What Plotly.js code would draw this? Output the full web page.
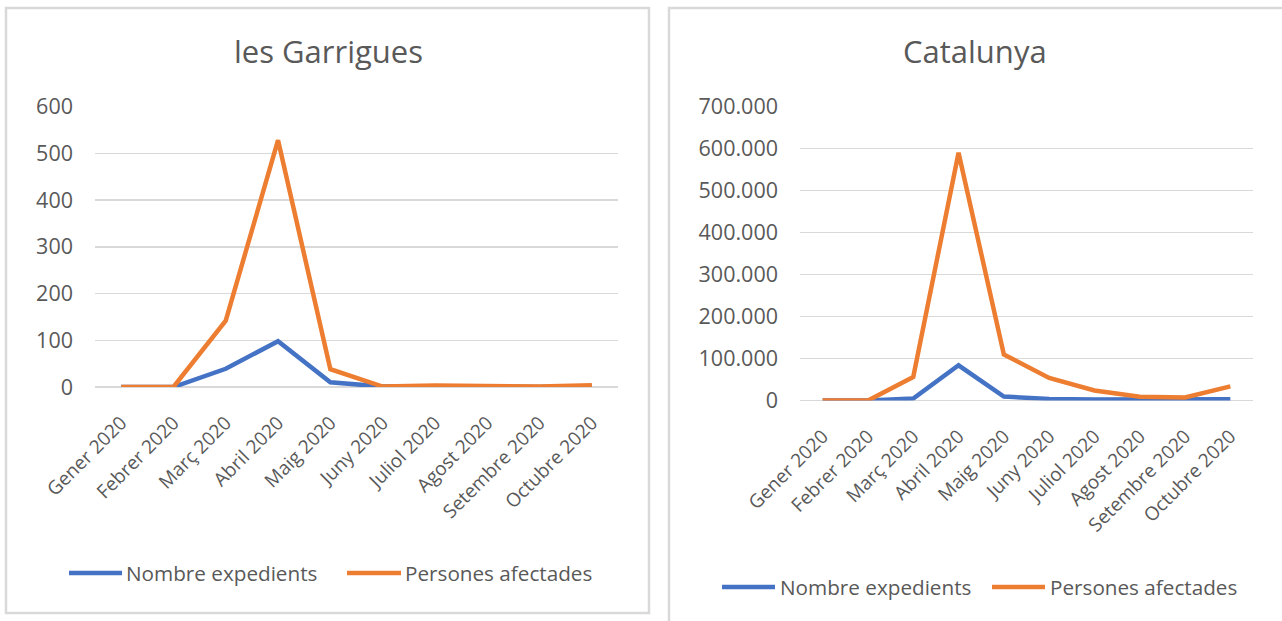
<!DOCTYPE html>
<html>
<head>
<meta charset="utf-8">
<script src="https://cdn.plot.ly/plotly-3.0.1.min.js"></script>
<style>html,body{margin:0;padding:0;background:#fff;}#chart{width:1282px;height:621px;}</style>
</head>
<body>
<div id="chart"></div>
<script>
// ---- data ----
const months = ["Gener 2020","Febrer 2020","Març 2020","Abril 2020","Maig 2020","Juny 2020","Juliol 2020","Agost 2020","Setembre 2020","Octubre 2020"];
const seriesNames = ["Nombre expedients","Persones afectades"];
const chartTitles = ["les Garrigues","Catalunya"];
const garriguesExpedients = [0,0,39,98,10,1,1,0,0,1];
const garriguesPersones   = [0,0,142,528,38,1,3,2,1,4];
const catalunyaExpedients = [0,0,5000,84000,9500,4000,2500,2000,2000,3000];
const catalunyaPersones   = [0,0,56000,590000,110000,54000,24000,9000,7500,34000];
const garriguesTicks = [0,100,200,300,400,500,600];
const catalunyaTicks = [0,100000,200000,300000,400000,500000,600000,700000];

const W = 1282, H = 621;
const px = x => x / W;
const py = y => 1 - y / H;
const BLUE = '#4472C4', ORANGE = '#ED7D31', GRID = '#D9D9D9', TXT = '#595959';
const FONT = 'Open Sans, sans-serif';

function line(x, y, color, xa, ya, name) {
  return {x: x, y: y, type: 'scatter', mode: 'lines', name: name,
    line: {color: color, width: 4.5, shape: 'linear'}, xaxis: xa, yaxis: ya,
    showlegend: false, hoverinfo: 'skip'};
}

const data = [
  line(months, garriguesExpedients, BLUE, 'x', 'y', seriesNames[0]),
  line(months, garriguesPersones, ORANGE, 'x', 'y', seriesNames[1]),
  line(months, catalunyaExpedients, BLUE, 'x2', 'y2', seriesNames[0]),
  line(months, catalunyaPersones, ORANGE, 'x2', 'y2', seriesNames[1])
];

function xax(domain) {
  return {domain: domain, type: 'category', range: [-0.5, 9.5], showgrid: false,
    showline: false, zeroline: false, ticks: '', tickangle: -45,
    tickfont: {family: FONT, size: 19, color: TXT}, ticklabelstandoff: 20, fixedrange: true};
}
function yax(domain, ticks, fmt) {
  return {domain: domain, range: [0, ticks[ticks.length-1]], tickvals: ticks,
    tickformat: fmt, showgrid: true, gridcolor: GRID, gridwidth: 1.5,
    zeroline: true, zerolinecolor: GRID, zerolinewidth: 1.5, showline: false, ticks: '',
    tickfont: {family: FONT, size: 21.5, color: TXT}, ticklabelstandoff: 21, fixedrange: true};
}

const shapes = [
  {type: 'rect', xref: 'paper', yref: 'paper', x0: px(6), x1: px(649), y0: py(613), y1: py(8),
   line: {color: GRID, width: 2.5}},
  {type: 'rect', xref: 'paper', yref: 'paper', x0: px(669), x1: px(1295), y0: py(640), y1: py(8),
   line: {color: GRID, width: 2.5}}
];
const annotations = [];
function addTitle(text, cx) {
  annotations.push({text: text, xref: 'paper', yref: 'paper', x: px(cx), y: py(51),
    xanchor: 'center', yanchor: 'middle', showarrow: false,
    font: {family: FONT, size: 31, color: TXT}});
}
function addLegend(yy, l1, t1, l2, t2) {
  const items = [[l1, t1, BLUE, seriesNames[0]], [l2, t2, ORANGE, seriesNames[1]]];
  items.forEach(it => {
    shapes.push({type: 'line', xref: 'paper', yref: 'paper', x0: px(it[0][0]), x1: px(it[0][1]),
      y0: py(yy), y1: py(yy), line: {color: it[2], width: 4.5}});
    annotations.push({text: it[3], xref: 'paper', yref: 'paper', x: px(it[1]), y: py(yy),
      xanchor: 'left', yanchor: 'middle', showarrow: false,
      font: {family: FONT, size: 20.7, color: TXT}});
  });
}
addTitle(chartTitles[0], 328);
addTitle(chartTitles[1], 975);
addLegend(573, [69,122], 124, [347,401], 403);
addLegend(587, [722,775], 778, [992,1045], 1048);

const layout = {
  width: W, height: H, autosize: false,
  margin: {l: 0, r: 0, t: 0, b: 0, pad: 0},
  paper_bgcolor: '#ffffff', plot_bgcolor: '#ffffff',
  separators: ',.',
  showlegend: false,
  xaxis: xax([px(95), px(618)]),
  yaxis: yax([py(387), py(106.5)], garriguesTicks, 'd'),
  xaxis2: xax([px(800), px(1253)]),
  yaxis2: yax([py(400.6), py(106.5)], catalunyaTicks, ',d'),
  shapes: shapes,
  annotations: annotations
};
layout.xaxis2.anchor = 'y2';
layout.yaxis2.anchor = 'x2';

Plotly.newPlot('chart', data, layout, {displayModeBar: false, staticPlot: true});
</script>
</body>
</html>
